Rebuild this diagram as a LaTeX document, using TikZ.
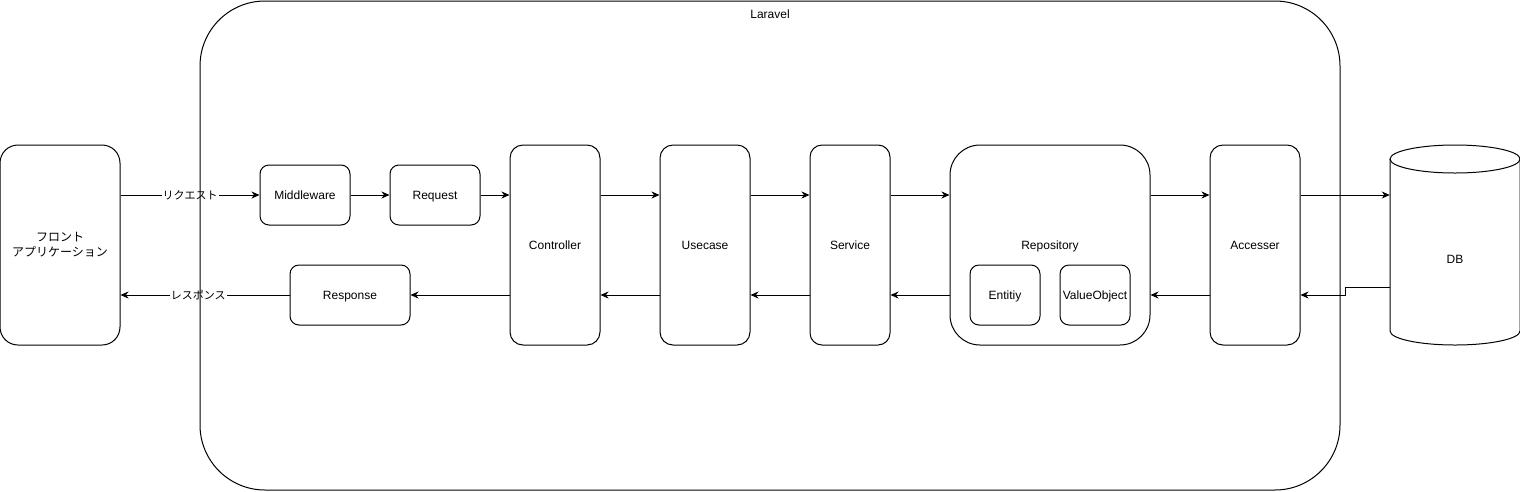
\documentclass[tikz,border=0pt]{standalone}
\usepackage{fontspec}
\setmainfont{Liberation Sans}
\newfontfamily\jpfont{Noto Sans CJK JP}
\usetikzlibrary{arrows.meta}

\begin{document}
\begin{tikzpicture}[x=1pt, y=-1pt,
        frame/.style={draw, line width=1pt, rounded corners=#1, inner sep=0pt,
            minimum width=90pt, minimum height=60pt, font=\fontsize{12}{15}\selectfont},
        frame/.default=9pt,
        box/.style={frame=#1, text height=11pt, text depth=2.6pt},
        box/.default=9pt,
        arr/.style={draw, line width=1pt, -{Stealth[length=8pt,width=7pt,inset=2.5pt]}},
        lbl/.style={fill=white, inner sep=1pt, font=\jpfont\fontsize{11}{13}\selectfont}]
        \useasboundingbox (0,0) rectangle (1520,491);

        % Front side
        \node[frame=18pt, minimum width=120pt, minimum height=200pt, align=center,
            font=\jpfont\fontsize{12}{15}\selectfont] (front) at (60,245) {フロント\\アプリケーション};

        % Request / response layer
        \node[box] (mw) at (305,195) {Middleware};
        \node[box] (req) at (435,195) {Request};
        \node[box, minimum width=120pt] (resp) at (350,295) {Response};

        % Application layers
        \node[box=13pt, minimum height=200pt] (ctrl) at (555,245) {Controller};
        \node[box=13pt, minimum height=200pt] (use) at (705,245) {Usecase};
        \node[box=12pt, minimum width=80pt, minimum height=200pt] (svc) at (850,245) {Service};
        \node[box=30pt, minimum width=200pt, minimum height=200pt] (repo) at (1050,245) {Repository};
        \node[box, minimum width=70pt] (ent) at (1005,295) {Entitiy};
        \node[box, minimum width=70pt] (vo) at (1095,295) {ValueObject};
        \node[box=13pt, minimum height=200pt] (acc) at (1255,245) {Accesser};

        % Database
        \node[minimum width=130pt, minimum height=200pt, inner sep=0pt] (db) at (1455,245) {};
        \draw[line width=1pt] (1390,159) -- (1390,331)
            arc[start angle=180, end angle=360, x radius=65pt, y radius=14pt] -- (1520,159);
        \draw[line width=1pt] (1455,159) ellipse[x radius=65pt, y radius=14pt];
        \node[font=\fontsize{12}{15}\selectfont] (dbtext) at (1455,259) {DB};

        % Connections
        \draw[arr] (front.east |- mw.west) -- node[lbl] {リクエスト} (mw.west);
        \draw[arr] (mw.east) -- (req.west);
        \draw[arr] (req.east) -- (ctrl.west |- req.east);
        \foreach \a/\b in {ctrl/use, use/svc, svc/repo, repo/acc, acc/db} {
            \draw[arr] ([yshift=50pt]\a.east) -- ([yshift=50pt]\b.west);
        }
        \draw[arr] ([yshift=-42pt]db.west) -- ++(-44,0) |- ([yshift=-50pt]acc.east);
        \foreach \a/\b in {acc/repo, repo/svc, svc/use, use/ctrl} {
            \draw[arr] ([yshift=-50pt]\a.west) -- ([yshift=-50pt]\b.east);
        }
        \draw[arr] (ctrl.west |- resp.east) -- (resp.east);
        \draw[arr] (resp.west) -- node[lbl, pos=0.54] {レスポンス} (front.east |- resp.west);

        % Laravel frame
        \node[frame=65pt, minimum width=1140pt, minimum height=489pt] (laravel) at (770,245.5) {};
        \node[font=\fontsize{12}{15}\selectfont] (lartext) at (770,14) {Laravel};
    \end{tikzpicture}
\end{document}
